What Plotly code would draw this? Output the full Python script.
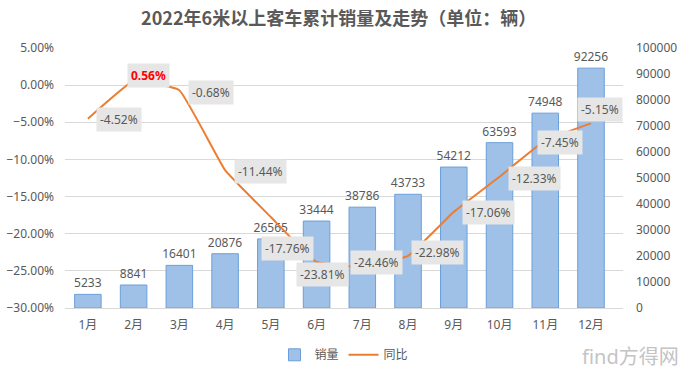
import plotly.graph_objects as go

months = ["1月", "2月", "3月", "4月", "5月", "6月", "7月", "8月", "9月", "10月", "11月", "12月"]
sales = [5233, 8841, 16401, 20876, 26565, 33444, 38786, 43733, 54212, 63593, 74948, 92256]
yoy_pct = [-4.52, 0.56, -0.68, -11.44, -17.76, -23.81, -24.46, -22.98, -17.06, -12.33, -7.45, -5.15]
yoy = [v / 100 for v in yoy_pct]

left_ticks = [0.05, 0.0, -0.05, -0.10, -0.15, -0.20, -0.25, -0.30]
right_ticks = list(range(0, 100001, 10000))

# label offsets (pixels) for the line labels
label_dx = [31, 15, 32, 35, 17, 6, 14, 29, 35, 35, 15, 9]
label_dy = [-1, 5, -2, -1, -31, -12, 4, 3, -1, -2, -2, 14]

FONT = "Noto Sans, Noto Sans CJK SC, sans-serif"
GRAY = "#595959"

fig = go.Figure()
fig.add_trace(go.Bar(
    x=months, y=sales, name="销量", yaxis="y",
    marker=dict(color="#9fc1e8", line=dict(color="#6b9fd9", width=1)),
    text=[str(v) for v in sales], textposition="outside",
    textfont=dict(size=12, color=GRAY, family=FONT),
    constraintext="none",
    cliponaxis=False,
))
fig.add_trace(go.Scatter(
    x=months, y=yoy, name="同比", yaxis="y2", mode="lines",
    line=dict(color="#ed7d31", width=2, shape="spline", smoothing=0.3),
))

for i, (m, v) in enumerate(zip(months, yoy)):
    red = i == 1
    fig.add_annotation(
        x=m, y=v, xref="x", yref="y2",
        text=("<b>%.2f%%</b>" % (v * 100)) if red else "%.2f%%" % (v * 100),
        showarrow=False, xshift=label_dx[i], yshift=label_dy[i],
        bgcolor="#e6e6e6", borderpad=3,
        font=dict(size=12, color="#ff0000" if red else GRAY, family=FONT),
    )

fig.add_annotation(
    x=(680 - 64) / 558, y=-0.185, xref="paper", yref="paper", xanchor="right", yanchor="middle",
    text="find方得网", showarrow=False,
    font=dict(size=20, color="#c4c4c4", family=FONT),
)

fig.update_layout(
    width=680, height=374,
    margin=dict(l=65, r=57, t=48, b=66, autoexpand=False),
    paper_bgcolor="white", plot_bgcolor="white",
    font=dict(family=FONT, color=GRAY, size=12),
    title=dict(text="<b>2022年6米以上客车累计销量及走势（单位：辆）</b>",
               x=0.498, xanchor="center", y=1 - 19 / 374, yanchor="middle", yref="container",
               font=dict(size=18, color=GRAY, family="Noto Sans CJK SC")),
    bargap=0.42,
    showlegend=True,
    legend=dict(orientation="h", x=0.5, xanchor="center", y=-0.18, yanchor="middle",
                font=dict(size=12, color=GRAY), itemwidth=30),
    xaxis=dict(showgrid=False, showline=True, linecolor="#d9d9d9", ticks="",
               tickfont=dict(size=12, color=GRAY), ticklabelstandoff=6, automargin=False),
    yaxis=dict(side="right", range=[0, 100000], tickvals=right_ticks, tickformat="d",
               showgrid=False, zeroline=False, showline=False, automargin=False,
               tickfont=dict(size=12, color=GRAY), ticklabelstandoff=12),
    yaxis2=dict(overlaying="y", side="left", range=[-0.30, 0.05], tickvals=left_ticks,
                tickformat=".2%", showgrid=True, gridcolor="#d9d9d9", gridwidth=1,
                zeroline=False, showline=False, automargin=False,
                tickfont=dict(size=12, color=GRAY), ticklabelstandoff=10),
)

fig.write_html("out.html", config={"displayModeBar": False},
               post_script="document.body.style.margin='0';document.body.style.overflow='hidden';")
